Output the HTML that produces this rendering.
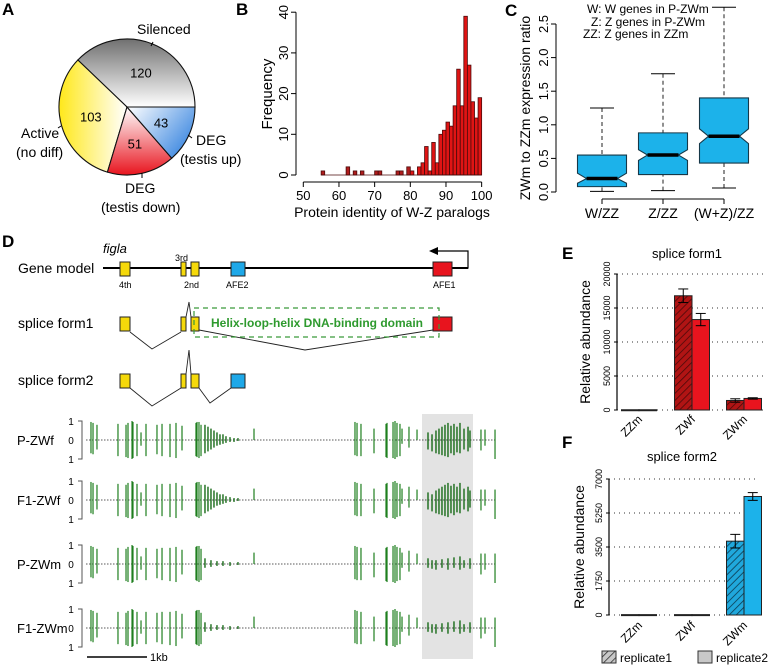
<!DOCTYPE html>
<html><head><meta charset="utf-8"><style>
html,body{margin:0;padding:0;background:#fff;}
svg{display:block;font-family:"Liberation Sans",sans-serif;}
</style></head><body>
<svg id="fig" width="768" height="668" viewBox="0 0 768 668" xmlns="http://www.w3.org/2000/svg">
<defs>
<linearGradient id="gGrey" gradientUnits="userSpaceOnUse" x1="0" y1="39" x2="0" y2="107"><stop offset="0" stop-color="#707070"/><stop offset="1" stop-color="#ffffff"/></linearGradient>
<linearGradient id="gYel" gradientUnits="userSpaceOnUse" x1="59" y1="0" x2="127" y2="0"><stop offset="0" stop-color="#ffe81a"/><stop offset="1" stop-color="#ffffff"/></linearGradient>
<linearGradient id="gRed" gradientUnits="userSpaceOnUse" x1="0" y1="107" x2="0" y2="175"><stop offset="0" stop-color="#ffffff"/><stop offset="1" stop-color="#e8141e"/></linearGradient>
<linearGradient id="gBlue" gradientUnits="userSpaceOnUse" x1="127" y1="107" x2="185" y2="155"><stop offset="0" stop-color="#ffffff"/><stop offset="1" stop-color="#3a86e0"/></linearGradient>
<pattern id="hatchRed" width="5" height="5" patternUnits="userSpaceOnUse" patternTransform="rotate(45)"><rect width="5" height="5" fill="#b01414"/><line x1="0" y1="0" x2="0" y2="5" stroke="#4a0a0a" stroke-width="1.6"/></pattern>
<pattern id="hatchBlue" width="5" height="5" patternUnits="userSpaceOnUse" patternTransform="rotate(45)"><rect width="5" height="5" fill="#20a8dc"/><line x1="0" y1="0" x2="0" y2="5" stroke="#0c3a50" stroke-width="1.6"/></pattern>
<pattern id="hatchGrey" width="5" height="5" patternUnits="userSpaceOnUse" patternTransform="rotate(45)"><rect width="5" height="5" fill="#c8c8c8"/><line x1="0" y1="0" x2="0" y2="5" stroke="#333" stroke-width="1.6"/></pattern>
</defs>

<!-- Panel A -->
<g id="panelA">
<text x="2" y="15" font-size="17" font-weight="bold">A</text>
<g id="pie"></g>
<text x="137" y="34" font-size="14">Silenced</text>
<line x1="153" y1="42" x2="151" y2="46" stroke="#000"/>
<text x="21" y="138" font-size="14">Active</text>
<text x="16" y="157" font-size="14">(no diff)</text>
<line x1="58" y1="128" x2="61" y2="126" stroke="#000"/>
<text x="196" y="145" font-size="14">DEG</text>
<text x="180" y="164" font-size="14">(testis up)</text>
<line x1="188" y1="135" x2="192" y2="138" stroke="#000"/>
<text x="125" y="193" font-size="14">DEG</text>
<text x="101" y="212" font-size="14">(testis down)</text>
<line x1="142" y1="173" x2="142" y2="178" stroke="#000"/>
</g>

<!-- Panel B -->
<g id="panelB">
<text x="236" y="15" font-size="17" font-weight="bold">B</text>
<text transform="translate(272,94) rotate(-90)" text-anchor="middle" font-size="15">Frequency</text>
<text x="392" y="217" text-anchor="middle" font-size="14">Protein identity of W-Z paralogs</text>
<g id="histAxes"></g><g id="histBars"></g>
</g>

<!-- Panel C -->
<g id="panelC">
<text x="505" y="16" font-size="17" font-weight="bold">C</text>
<text transform="translate(530,108) rotate(-90)" text-anchor="middle" font-size="14">ZWm to ZZm expression ratio</text>
<text x="587" y="13" font-size="12">W:  W genes in P-ZWm</text>
<text x="591" y="26" font-size="12">Z:  Z genes in P-ZWm</text>
<text x="583" y="38" font-size="12">ZZ:  Z genes in ZZm</text>
<g id="boxAxes"></g><g id="boxes"></g>
</g>

<!-- Panel D -->
<g id="panelD">
<text x="2" y="247" font-size="17" font-weight="bold">D</text>
<text x="103" y="253" font-size="13" font-style="italic">figla</text>
<text x="18" y="273" font-size="14">Gene model</text>
<text x="18" y="328" font-size="14">splice form1</text>
<text x="18" y="385" font-size="14">splice form2</text>
<line x1="103" y1="268" x2="468" y2="268" stroke="#000" stroke-width="2"/>
<polyline points="452,268 468,268 468,251 435,251" fill="none" stroke="#000" stroke-width="1.2"/>
<polygon points="429,251 438,247 438,255" fill="#000"/>
<g font-size="9">
<text x="175" y="261">3rd</text>
<text x="119" y="288">4th</text>
<text x="184" y="288">2nd</text>
<text x="226" y="288">AFE2</text>
<text x="433" y="288">AFE1</text>
</g>
<g stroke="#222" stroke-width="1" fill="#f5d90a">
<rect x="120" y="262" width="10" height="14"/>
<rect x="181" y="262" width="5" height="14"/>
<rect x="191" y="262" width="8" height="14"/>
<rect x="231" y="262" width="14" height="14" fill="#1ea8e8"/>
<rect x="433" y="262" width="19" height="14" fill="#e8141e"/>
<rect x="120" y="317" width="10" height="14"/>
<rect x="181" y="317" width="5" height="14"/>
<rect x="191" y="317" width="8" height="14"/>
<rect x="433" y="317" width="19" height="14" fill="#e8141e"/>
<rect x="120" y="374" width="10" height="14"/>
<rect x="181" y="374" width="5" height="14"/>
<rect x="191" y="374" width="8" height="14"/>
<rect x="231" y="374" width="14" height="14" fill="#1ea8e8"/>
</g>
<g fill="none" stroke="#222" stroke-width="0.9">
<polyline points="130,332 152,349 181,332"/>
<polyline points="186,317 189,302 191,317"/>
<polyline points="199,330 305,350 433,330"/>
<polyline points="130,388 152,406 181,388"/>
<polyline points="186,374 189,350 191,374"/>
<polyline points="199,388 210,403 231,388"/>
</g>
<rect x="194" y="308" width="245" height="29" fill="none" stroke="#3a9a3a" stroke-width="1.2" stroke-dasharray="5,4"/>
<text x="317" y="327" text-anchor="middle" font-size="12" font-weight="bold" fill="#2e9a2e">Helix-loop-helix DNA-binding domain</text>
<rect x="422" y="414" width="51" height="245" fill="#e3e3e3"/>
<g id="tracks"></g>
<line x1="87" y1="657" x2="147" y2="657" stroke="#000" stroke-width="1.5"/>
<text x="150" y="661" font-size="11">1kb</text>
</g>

<!-- Panel E -->
<g id="panelE">
<text x="562" y="259" font-size="17" font-weight="bold">E</text>
<text x="687" y="258" text-anchor="middle" font-size="13">splice form1</text>
<text transform="translate(590,342) rotate(-90)" text-anchor="middle" font-size="14">Relative abundance</text>
<g id="eChart"></g>
</g>

<!-- Panel F -->
<g id="panelF">
<text x="562" y="448" font-size="17" font-weight="bold">F</text>
<text x="682" y="461" text-anchor="middle" font-size="13">splice form2</text>
<text transform="translate(584,547) rotate(-90)" text-anchor="middle" font-size="14">Relative abundance</text>
<g id="fChart"></g>
<rect x="602" y="651" width="14" height="12" fill="url(#hatchGrey)" stroke="#333"/>
<text x="620" y="662" font-size="12">replicate1</text>
<rect x="698" y="651" width="14" height="12" fill="#c8c8c8" stroke="#333"/>
<text x="716" y="662" font-size="12">replicate2</text>
</g>
</svg>
<script>
var NS="http://www.w3.org/2000/svg";
function mk(parent,tag,attrs){var e=document.createElementNS(NS,tag);for(var k in attrs)e.setAttribute(k,attrs[k]);parent.appendChild(e);return e;}

// ---- Panel A data
var pieLabels=["Silenced","Active","DEG testis down","DEG testis up"];
var pieValues=[120,103,51,43];
var pieFills=["url(#gGrey)","url(#gYel)","url(#gRed)","url(#gBlue)"];
// ---- Panel B data
var histBins=[55,62,64,66,70,71,76,77,79,80,82,83,84,85,86,87,88,89,90,91,92,93,94,95,96,97,98,99];
var histCounts=[1,2,1,1,1,1,1,1,2,1,2,3,7,1,8,3,10,11,13,12,17,26,17,39,27,18,14,19];
var histXTicks=[50,60,70,80,90,100];
var histYTicks=[0,10,20,30,40];
// ---- Panel C data
var boxCats=["W/ZZ","Z/ZZ","(W+Z)/ZZ"];
var boxLow=[0.01,0.02,0.06];
var boxQ1=[0.08,0.26,0.43];
var boxMed=[0.20,0.55,0.83];
var boxQ3=[0.55,0.88,1.40];
var boxHigh=[1.25,1.76,2.75];
var boxNotchLo=[0.13,0.47,0.72];
var boxNotchHi=[0.28,0.63,0.94];
var boxYTicks=[0.0,0.5,1.0,1.5,2.0,2.5];
// ---- Panel E/F data
var barCats=["ZZm","ZWf","ZWm"];
var eRep1=[40,16800,1400];
var eRep2=[40,13300,1700];
var eErr1=[0,1000,250];
var eErr2=[0,900,100];
var eTicks=[0,5000,10000,15000,20000];
var fRep1=[20,20,3800];
var fRep2=[20,20,6100];
var fErr1=[0,0,350];
var fErr2=[0,0,200];
var fTicks=[0,1750,3500,5250,7000];
// ---- Panel D track data (positions in bp)
var trackNames=["P-ZWf","F1-ZWf","P-ZWm","F1-ZWm"];
var peakPos=[83,117,183,533,667,700,767,783,850,917,1000,1183,1267,1400,1500,1600,1833,1850,1883,1917,2800,4483,4517,4583,4800,5000,5017,5117,5150,5183,5233,5267,5383,5517,6583,6650,6817];
var peakUp=[0.95,0.9,0.8,0.85,0.8,0.9,1.0,0.95,0.85,0.4,0.85,0.8,0.85,0.85,0.9,0.75,0.9,0.95,0.95,0.8,0.6,0.95,0.9,0.85,0.6,0.85,0.9,0.95,1.0,0.9,0.85,0.6,0.7,0.55,0.55,0.55,0.55];
var peakDown=[0.7,0.75,0.5,0.85,0.9,0.95,1.0,0.95,0.85,0.3,0.85,0.75,0.85,0.9,0.95,0.55,0.85,0.9,0.95,0.85,0.0,0.8,0.85,0.85,0.7,0.9,0.95,0.95,1.0,0.9,0.85,0.2,0.4,0.0,0.55,0.3,1.0];
var denseFemPos=[1983,2033,2083,2133,2183,2233,2283,2333,2400,2467,2533,5700,5767,5833,5883,5933,5983,6033,6083,6133,6183,6233,6300,6367,6400];
var denseFemUp=[0.8,0.7,0.6,0.5,0.4,0.3,0.3,0.2,0.15,0.1,0.1,0.4,0.3,0.5,0.6,0.7,0.8,0.9,0.75,0.85,0.7,0.9,0.6,0.7,0.5];
var denseFemDown=[0.7,0.6,0.5,0.4,0.3,0.25,0.2,0.15,0.1,0.1,0.05,0.5,0.6,0.7,0.75,0.8,0.85,0.9,0.7,0.8,0.65,0.7,0.5,0.6,0.4];
var denseMalePos=[1983,2083,2183,2283,2400,2533,5700,5767,5833,5933,6033,6133,6233,6300,6400];
var denseMaleUp=[0.3,0.2,0.15,0.15,0.1,0.1,0.3,0.2,0.2,0.25,0.3,0.35,0.4,0.2,0.3];
var denseMaleDown=[0.2,0.15,0.1,0.1,0.1,0.05,0.2,0.25,0.3,0.2,0.3,0.2,0.3,0.2,0.25];
var trackCenters=[440,500,564,628];

// ===== Pie
(function(){
 var g=document.getElementById('pie');var cx=127,cy=107,r=68;
 var tot=pieValues.reduce(function(a,b){return a+b;},0);var a0=0;
 for(var i=0;i<pieValues.length;i++){
  var a1=a0+pieValues[i]/tot*2*Math.PI;
  var x0=cx+r*Math.cos(a0),y0=cy-r*Math.sin(a0),x1=cx+r*Math.cos(a1),y1=cy-r*Math.sin(a1);
  var large=(a1-a0)>Math.PI?1:0;
  var p=mk(g,'path',{d:'M'+cx+','+cy+' L'+x0+','+y0+' A'+r+','+r+' 0 '+large+' 0 '+x1+','+y1+' Z',fill:pieFills[i],stroke:'#111','stroke-width':1.1});
  
  
  var am=(a0+a1)/2,lr=r*0.55;
  var t=mk(g,'text',{x:cx+lr*Math.cos(am),y:cy-lr*Math.sin(am)+5,'text-anchor':'middle','font-size':13});
  
  
  t.textContent=pieValues[i];
  a0=a1;
 }
})();

// ===== Histogram
(function(){
 function xs(v){return 303.3+(v-50)*3.567;}
 function ys(c){return 175-c*4.07;}
 var ax=document.getElementById('histAxes'),bg=document.getElementById('histBars');
 var l=mk(ax,'line',{x1:296,y1:ys(0),x2:296,y2:ys(40),stroke:'#000'});
 
 
 histYTicks.forEach(function(v){
  mk(ax,'line',{x1:291,y1:ys(v),x2:296,y2:ys(v),stroke:'#000'});
  var t=mk(ax,'text',{transform:'translate(288,'+ys(v)+') rotate(-90)','text-anchor':'middle','font-size':13});
  
  
  t.textContent=v;
 });
 var l2=mk(ax,'line',{x1:xs(50),y1:182,x2:xs(100),y2:182,stroke:'#000'});
 
 
 histXTicks.forEach(function(v){
  mk(ax,'line',{x1:xs(v),y1:182,x2:xs(v),y2:187,stroke:'#000'});
  var t=mk(ax,'text',{x:xs(v),y:200,'text-anchor':'middle','font-size':13});
  
  
  t.textContent=v;
 });
 for(var i=0;i<histBins.length;i++){
  var b=histBins[i],c=histCounts[i];
  var r=mk(bg,'rect',{x:xs(b),y:ys(c),width:3.567,height:ys(0)-ys(c),fill:b<80?'#b01c1c':'#e01414',stroke:'#4a0a0a','stroke-width':0.8});
  
  
 }
 mk(bg,'line',{x1:xs(55),y1:ys(0),x2:xs(100),y2:ys(0),stroke:'#4a0a0a','stroke-width':0.8});
})();

// ===== Boxplot
(function(){
 function ys(v){return 192-v*67.2;}
 var cx=[602,663,724],hw=24.5,nd=9,axX=556;
 var ax=document.getElementById('boxAxes'),g=document.getElementById('boxes');
 boxYTicks.forEach(function(v){
  mk(ax,'line',{x1:axX-5,y1:ys(v),x2:axX,y2:ys(v),stroke:'#000'});
  var t=mk(ax,'text',{transform:'translate(548,'+ys(v)+') rotate(-90)','text-anchor':'middle','font-size':13});
  
  
  t.textContent=v.toFixed(1);
 });
 var ya=mk(ax,'line',{x1:axX,y1:ys(0),x2:axX,y2:ys(2.5),stroke:'#000'});
 
 
 var xa=mk(ax,'line',{x1:cx[0],y1:199,x2:cx[2],y2:199,stroke:'#000'});
 
 
 for(var i=0;i<boxCats.length;i++){
  var c=cx[i];
  mk(ax,'line',{x1:c,y1:199,x2:c,y2:204,stroke:'#000'});
  var t=mk(ax,'text',{x:c,y:218,'text-anchor':'middle','font-size':14});
  
  
  t.textContent=boxCats[i];
  mk(g,'line',{x1:c,y1:ys(boxHigh[i]),x2:c,y2:ys(boxQ3[i]),stroke:'#222','stroke-dasharray':'4,3'});
  mk(g,'line',{x1:c,y1:ys(boxLow[i]),x2:c,y2:ys(boxQ1[i]),stroke:'#222','stroke-dasharray':'4,3'});
  mk(g,'line',{x1:c-12,y1:ys(boxHigh[i]),x2:c+12,y2:ys(boxHigh[i]),stroke:'#000'});
  mk(g,'line',{x1:c-12,y1:ys(boxLow[i]),x2:c+12,y2:ys(boxLow[i]),stroke:'#000'});
  var pts=[[c-hw,ys(boxQ1[i])],[c-hw,ys(boxNotchLo[i])],[c-hw+nd,ys(boxMed[i])],[c-hw,ys(boxNotchHi[i])],[c-hw,ys(boxQ3[i])],[c+hw,ys(boxQ3[i])],[c+hw,ys(boxNotchHi[i])],[c+hw-nd,ys(boxMed[i])],[c+hw,ys(boxNotchLo[i])],[c+hw,ys(boxQ1[i])]];
  var p=mk(g,'polygon',{points:pts.map(function(q){return q.join(',');}).join(' '),fill:'#1cb2ea',stroke:'#163848','stroke-width':1.1});
  
  
  mk(g,'line',{x1:c-hw+nd,y1:ys(boxMed[i]),x2:c+hw-nd,y2:ys(boxMed[i]),stroke:'#000','stroke-width':3.5});
 }
})();

// ===== Bar charts
function barChart(gid,y0,ppu,axX,gridEnd,r1,r2,e1,e2,ticks,fill2,hatch,cats,labelY){
 var g=document.getElementById(gid);
 function ys(v){return y0-v*ppu;}
 var centers=[639,692,744];
 ticks.forEach(function(v){
  mk(g,'line',{x1:axX,y1:ys(v),x2:gridEnd,y2:ys(v),stroke:'#333','stroke-dasharray':'1,4'});
  mk(g,'line',{x1:axX-3,y1:ys(v),x2:axX,y2:ys(v),stroke:'#000'});
  var t=mk(g,'text',{transform:'translate('+(axX-7)+','+ys(v)+') rotate(-90)','text-anchor':'middle','font-size':9});
  
  
  t.textContent=v;
 });
 var a=mk(g,'line',{x1:axX,y1:ys(0),x2:axX,y2:ys(ticks[ticks.length-1]),stroke:'#000','stroke-width':1.2});
 
 
 var w=17.5;
 for(var i=0;i<cats.length;i++){
  var c=centers[i];
  var b1=mk(g,'rect',{x:c-w,y:ys(r1[i]),width:w,height:Math.max(1,ys(0)-ys(r1[i])),fill:hatch,stroke:'#222','stroke-width':1});
  
  
  var b2=mk(g,'rect',{x:c,y:ys(r2[i]),width:w,height:Math.max(1,ys(0)-ys(r2[i])),fill:fill2,stroke:'#222','stroke-width':1});
  
  
  [[c-w/2,r1[i],e1[i]],[c+w/2,r2[i],e2[i]]].forEach(function(q){
   if(q[2]>0){
    mk(g,'line',{x1:q[0],y1:ys(q[1]-q[2]),x2:q[0],y2:ys(q[1]+q[2]),stroke:'#000'});
    mk(g,'line',{x1:q[0]-5,y1:ys(q[1]+q[2]),x2:q[0]+5,y2:ys(q[1]+q[2]),stroke:'#000'});
    mk(g,'line',{x1:q[0]-5,y1:ys(q[1]-q[2]),x2:q[0]+5,y2:ys(q[1]-q[2]),stroke:'#000'});
   }
  });
  var t=mk(g,'text',{transform:'translate('+(c+4)+','+labelY+') rotate(-45)','text-anchor':'end','font-size':12});
  
  
  t.textContent=cats[i];
 }
}
barChart('eChart',410,136/20000,617,763,eRep1,eRep2,eErr1,eErr2,eTicks,'#e8141e','url(#hatchRed)',barCats,420);
barChart('fChart',615,136/7000,609,757,fRep1,fRep2,fErr1,fErr2,fTicks,'#1cb2ea','url(#hatchBlue)',barCats,626);

// ===== Tracks
(function(){
 var g=document.getElementById('tracks');
 function xs(bp){return 86+bp*0.06;}
 var amp=19;
 for(var t=0;t<trackNames.length;t++){
  var cy=trackCenters[t];
  var lab=mk(g,'text',{x:17,y:cy+5,'font-size':13});
  
  
  lab.textContent=trackNames[t];
  [[cy-amp,'1'],[cy,'0'],[cy+amp,'1']].forEach(function(q){
   var s=mk(g,'text',{x:71,y:q[0]+4,'font-size':10,'text-anchor':'middle'});
   
   
   s.textContent=q[1];
  });
  mk(g,'polyline',{points:'78,'+(cy-amp)+' 82,'+(cy-amp)+' 82,'+(cy+amp)+' 78,'+(cy+amp),fill:'none',stroke:'#555'});
  var base=mk(g,'line',{x1:86,y1:cy,x2:497,y2:cy,stroke:'#222','stroke-width':0.8,'stroke-dasharray':'1.5,1.5'});
  
  
  for(var i=0;i<peakPos.length;i++){
   var l=mk(g,'line',{x1:xs(peakPos[i]),y1:cy-peakUp[i]*amp,x2:xs(peakPos[i]),y2:cy+peakDown[i]*amp,stroke:'#1f7f1f','stroke-width':1.2});
   
   
  }
  var fem=t<2,P=fem?denseFemPos:denseMalePos,U=fem?denseFemUp:denseMaleUp,D=fem?denseFemDown:denseMaleDown;
  for(var j=0;j<P.length;j++){
   var l2=mk(g,'line',{x1:xs(P[j]),y1:cy-U[j]*amp,x2:xs(P[j]),y2:cy+D[j]*amp,stroke:'#176a17','stroke-width':1.4});
   
   
  }
 }
})();
</script>
</body></html>
